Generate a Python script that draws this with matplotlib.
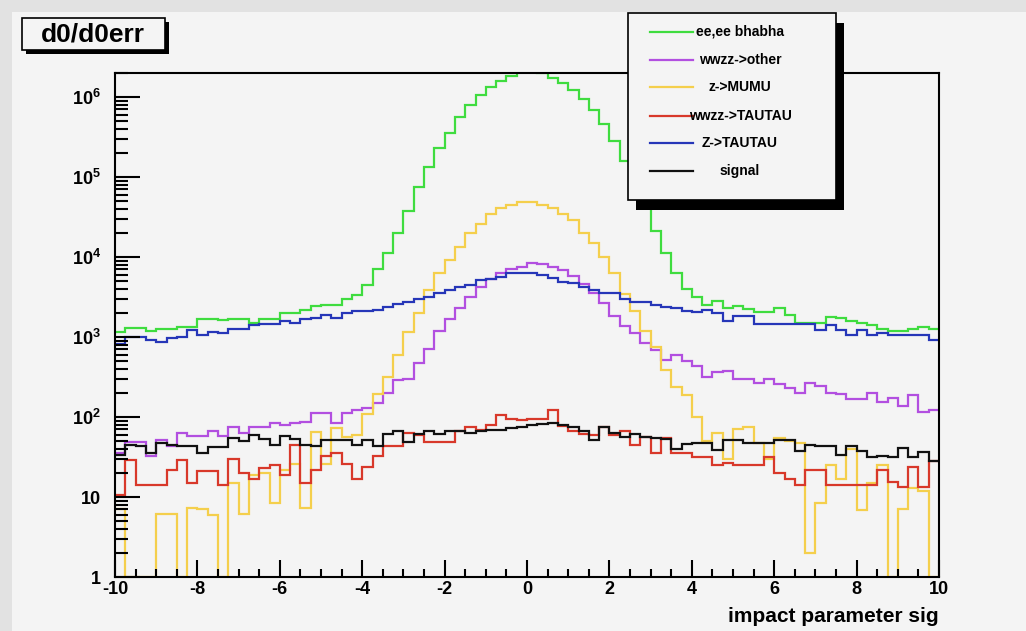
import matplotlib
matplotlib.use("Agg")
import matplotlib.pyplot as plt
import numpy as np
from matplotlib.patches import Rectangle
from matplotlib.lines import Line2D
from matplotlib.ticker import MultipleLocator, LogLocator, FuncFormatter, NullFormatter, FixedLocator

# --- data: 80 bins from -10 to 10 (counts per bin) ---
X_MIN, X_MAX, N_BINS = -10, 10, 80

bhabha = [1150, 1290, 1290, 1180, 1260, 1260, 1350, 1350, 1700, 1700,
          1620, 1700, 1660, 1480, 1660, 1660, 2000, 2000, 2190, 2450,
          2510, 2510, 3020, 3310, 4470, 7080, 11200, 20000, 38000, 74100,
          132000, 229000, 355000, 562000, 794000, 1050000, 1320000, 1590000, 1860000, 2090000,
          2090000, 2000000, 1740000, 1480000, 1230000, 955000, 692000, 457000, 282000, 158000,
          83200, 41700, 20900, 11200, 6310, 3980, 3160, 2510, 2820, 2290,
          2450, 2240, 2040, 2040, 2290, 1900, 1480, 1480, 1480, 1780,
          1740, 1580, 1510, 1410, 1260, 1200, 1200, 1260, 1350, 1260]

wwzz_other = [35, 49, 49, 33, 51, 43, 63, 58, 58, 66,
              58, 76, 63, 76, 76, 83, 79, 83, 87, 112,
              112, 83, 112, 123, 129, 148, 200, 288, 295, 479,
              708, 1200, 1660, 2290, 3160, 4170, 5250, 6310, 7080, 7590,
              8510, 8130, 7590, 6920, 5750, 4570, 3550, 2630, 1820, 1380,
              1120, 832, 692, 513, 603, 501, 437, 316, 363, 380,
              295, 295, 269, 295, 257, 229, 200, 269, 245, 200,
              195, 170, 170, 200, 155, 174, 138, 186, 117, 123]

z_mumu = [7, 1, 1, 1, 6.2, 6.2, 1, 7.2, 7, 6,
          1, 15, 6.2, 19, 20, 8.4, 22, 26, 7.2, 65,
          26, 73, 56, 59, 110, 195, 316, 600, 1150, 2000,
          3900, 6300, 9100, 13500, 20000, 26000, 35000, 41000, 45000, 49000,
          49000, 45000, 41000, 35000, 29000, 20000, 15000, 10000, 6300, 3500,
          2100, 1200, 760, 390, 240, 190, 100, 50, 64, 30,
          70, 76, 47, 30, 55, 50, 47, 2, 8.3, 25,
          17, 40, 6.9, 15, 25, 1, 7, 13, 12, 1]

wwzz_tautau = [10.5, 29, 14, 14, 14, 22, 29, 15, 21, 21,
               14, 30, 20, 17, 23, 25, 19, 45, 15, 22,
               33, 35, 26, 17, 24, 33, 43, 43, 63, 60,
               49, 49, 49, 66, 76, 69, 79, 105, 95, 92,
               95, 95, 122, 78, 67, 62, 60, 76, 60, 66,
               45, 56, 35, 55, 35, 35, 32, 32, 25, 27,
               25, 25, 25, 32, 20, 17, 14, 22, 22, 14,
               14, 14, 14, 14, 22, 15.5, 13.5, 24, 13.5, 28]

z_tautau = [830, 1000, 1000, 910, 870, 980, 1000, 1230, 1070, 1170,
            1120, 1260, 1260, 1410, 1450, 1450, 1580, 1510, 1660, 1740,
            1860, 1740, 2000, 2090, 2090, 2190, 2400, 2570, 2750, 3020,
            3160, 3550, 3890, 4270, 4470, 5130, 5370, 5620, 6310, 6310,
            6310, 6030, 5500, 4900, 4680, 4270, 3890, 3550, 3550, 3020,
            2750, 2750, 2510, 2400, 2290, 2090, 2040, 2190, 2000, 1580,
            1820, 1820, 1450, 1450, 1450, 1450, 1450, 1450, 1230, 1410,
            1230, 1070, 1230, 1070, 1120, 1070, 1070, 1070, 1070, 930]

signal = [34, 45, 44, 36, 48, 45, 43, 43, 35, 42,
          42, 55, 50, 60, 53, 45, 58, 53, 45, 43,
          52, 52, 52, 45, 52, 43, 61, 66, 49, 61,
          66, 61, 66, 66, 63, 66, 69, 69, 72, 76,
          80, 81, 85, 79, 75, 66, 52, 76, 64, 57,
          61, 56, 55, 53, 40, 46, 48, 48, 39, 52,
          52, 48, 47, 47, 52, 52, 38, 45, 44, 43,
          34, 44, 38, 32, 33, 32, 41, 32, 37, 28]

labels = ["ee,ee bhabha", "wwzz->other", "z->MUMU", "wwzz->TAUTAU", "Z->TAUTAU", "signal"]
colors = ["#3fdc3f", "#b24fe0", "#f4cf4c", "#d8382a", "#2636b8", "#111111"]
series = [bhabha, wwzz_other, z_mumu, wwzz_tautau, z_tautau, signal]
y_decades = [1, 10, 100, 1000, 10000, 100000, 1000000]

# --- style ---
plt.rcParams["font.family"] = ["Liberation Sans", "DejaVu Sans"]
plt.rcParams["font.weight"] = "bold"
plt.rcParams["axes.unicode_minus"] = False
plt.rcParams["mathtext.fontset"] = "custom"
plt.rcParams["mathtext.rm"] = "Liberation Sans:bold"
plt.rcParams["mathtext.bf"] = "Liberation Sans:bold"
plt.rcParams["mathtext.default"] = "rm"

W, H = 1026, 631
CANVAS = "#f4f4f4"

def fx(px):
    return px / W

def fy(py):
    return 1 - py / H

fig = plt.figure(figsize=(W / 100, H / 100), dpi=100, facecolor="#e2e2e2")
fig.add_artist(Rectangle((fx(12), 0), 1 - fx(12), fy(12), transform=fig.transFigure,
                         fc=CANVAS, ec="none", zorder=-1))

ax = fig.add_axes([fx(115), fy(577), fx(939) - fx(115), fy(73) - fy(577)])
ax.set_facecolor(CANVAS)

edges = np.linspace(X_MIN, X_MAX, N_BINS + 1)
for vals, col in zip(series, colors):
    ax.stairs(vals, edges, baseline=None, color=col, lw=1.6)

ax.set_yscale("log")
ax.set_xlim(X_MIN, X_MAX)
ax.set_ylim(1, 2e6)

def ylab(v, pos):
    n = int(round(np.log10(v)))
    if n == 0:
        return "1"
    if n == 1:
        return "10"
    return r"$10^{%d}$" % n

ax.xaxis.set_major_locator(MultipleLocator(2))
ax.xaxis.set_minor_locator(MultipleLocator(0.5))
ax.yaxis.set_major_locator(FixedLocator(y_decades))
ax.yaxis.set_minor_locator(LogLocator(base=10, subs=np.arange(2, 10), numticks=30))
ax.yaxis.set_major_formatter(FuncFormatter(ylab))
ax.yaxis.set_minor_formatter(NullFormatter())

ax.tick_params(which="both", direction="in", top=False, right=False, width=1.5, labelsize=13)
ax.tick_params(axis="x", which="major", length=12, pad=3)
ax.tick_params(axis="x", which="minor", length=6)
ax.tick_params(axis="y", which="major", length=18, pad=10)
ax.tick_params(axis="y", which="minor", length=9)
for s in ax.spines.values():
    s.set_linewidth(1.5)

ax.set_xlabel("impact parameter sig", loc="right", fontsize=15, fontweight="bold", labelpad=6)

# --- title box ---
fig.add_artist(Rectangle((fx(26), fy(54)), fx(143), 32 / H, transform=fig.transFigure,
                         fc="black", ec="none", zorder=3))
fig.add_artist(Rectangle((fx(22), fy(50)), fx(143), 32 / H, transform=fig.transFigure,
                         fc=CANVAS, ec="black", lw=1.2, zorder=4))
fig.text(fx(93), fy(34), "d0/d0err", fontsize=19, ha="center", va="center", zorder=5)

# --- legend box ---
fig.add_artist(Rectangle((fx(636), fy(210)), fx(208), 187 / H, transform=fig.transFigure,
                         fc="black", ec="none", zorder=3))
fig.add_artist(Rectangle((fx(628), fy(200)), fx(208), 187 / H, transform=fig.transFigure,
                         fc=CANVAS, ec="black", lw=1.2, zorder=4))
entry_y = [32, 60, 87, 116, 143, 171]
for lab, col, py in zip(labels, colors, entry_y):
    fig.add_artist(Line2D([fx(650), fx(693)], [fy(py), fy(py)], transform=fig.transFigure,
                          color=col, lw=1.6, zorder=5))
    fig.text(fx(740), fy(py), lab, fontsize=10, ha="center", va="center", zorder=6)

fig.savefig("out.png", dpi=100, facecolor=fig.get_facecolor())
